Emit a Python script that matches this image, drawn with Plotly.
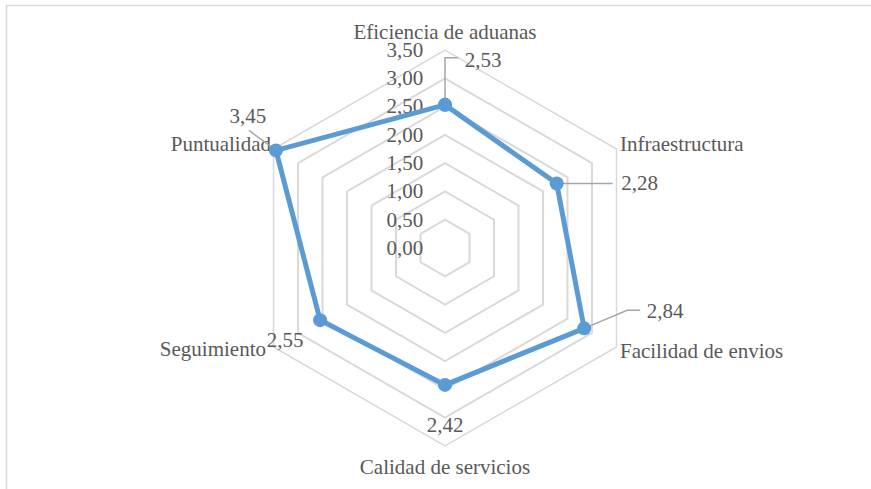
import math
import plotly.graph_objects as go

# Survey scores per logistics dimension
categories = ["Eficiencia de aduanas", "Infraestructura", "Facilidad de envios",
              "Calidad de servicios", "Seguimiento", "Puntualidad"]
scores = [2.53, 2.28, 2.84, 2.42, 2.55, 3.45]
radial_ticks = [0.0, 0.5, 1.0, 1.5, 2.0, 2.5, 3.0, 3.5]

# Page and plot geometry (pixels)
W, H = 871, 489
CX, CY = 445, 248          # centre of the radar
RPX = 198                  # radius of the outer ring
RMAX = radial_ticks[-1]
PX_PER_UNIT = RPX / RMAX
RPX_OVER = min(CY, H - CY) - 1      # radius of the overlay used for series and labels
ROVER = RPX_OVER / PX_PER_UNIT      # same scale, wider range

TEXT = "#595959"
GRID = "#d9d9d9"
BLUE = "#5b9bd5"
LEADER = "#a6a6a6"
FONT = "Liberation Serif, Times New Roman, serif"
FS = 21

# Data-label placement: offset of the label centre from its point, and
# optional leader-line vertices (pixels, y downwards) relative to the point.
label_offsets = [(38, -43), (83, 1), (81, -16), (0, 42), (-35, 22), (-28, -33)]
leader_paths = [
    [(0, 0), (0, -47), (13, -47)],
    [(0, 0), (56, 0)],
    [(0, 0), (43, -18), (56, -18)],
    None,
    None,
    [(0, 0), (-27, -20)],
]
# Category-name placement: anchor offset from the outer vertex and text alignment
category_offsets = [(0, -16), (3.5, -3), (3.5, 6), (0, 23), (-7.5, 4), (-2.5, -3)]
category_textpos = ["middle center", "middle right", "middle right",
                    "middle center", "middle left", "middle left"]

n = len(categories)
thetas = [i * 360.0 / n for i in range(n)]


def point_px(r, theta):
    a = math.radians(theta)
    return r * PX_PER_UNIT * math.sin(a), -r * PX_PER_UNIT * math.cos(a)


def px_to_polar(x, y):
    r = math.hypot(x, y) / PX_PER_UNIT
    th = math.degrees(math.atan2(x, -y)) % 360
    return r, th


fig = go.Figure()

# hexagonal frame (category axis) -- invisible carrier trace
fig.add_trace(go.Scatterpolar(r=[0] * n, theta=categories, mode="lines",
                              line=dict(width=0), opacity=0, subplot="polar",
                              hoverinfo="skip", showlegend=False))

# category names
cat_r, cat_t = [], []
for th, (dx, dy) in zip(thetas, category_offsets):
    px, py = point_px(RMAX, th)
    r, t = px_to_polar(px + dx, py + dy)
    cat_r.append(r)
    cat_t.append(t)
fig.add_trace(go.Scatterpolar(r=cat_r, theta=cat_t, mode="text", text=categories,
                              textposition=category_textpos,
                              textfont=dict(family=FONT, size=FS, color=TEXT),
                              subplot="polar2", cliponaxis=False,
                              hoverinfo="skip", showlegend=False))

# leader lines
for val, th, path in zip(scores, thetas, leader_paths):
    if not path:
        continue
    px, py = point_px(val, th)
    rr, tt = zip(*[px_to_polar(px + dx, py + dy) for dx, dy in path])
    fig.add_trace(go.Scatterpolar(r=list(rr), theta=list(tt), mode="lines",
                                  line=dict(color=LEADER, width=1.5),
                                  subplot="polar2",
                                  hoverinfo="skip", showlegend=False))

# main series
fig.add_trace(go.Scatterpolar(
    r=scores + [scores[0]], theta=thetas + [thetas[0]],
    mode="lines+markers",
    line=dict(color=BLUE, width=5),
    marker=dict(color=BLUE, size=14),
    subplot="polar2", showlegend=False,
))

# data labels
lab_r, lab_t, lab_s = [], [], []
for val, th, (dx, dy) in zip(scores, thetas, label_offsets):
    px, py = point_px(val, th)
    r, t = px_to_polar(px + dx, py + dy)
    lab_r.append(r)
    lab_t.append(t)
    lab_s.append(f"{val:.2f}".replace(".", ","))
fig.add_trace(go.Scatterpolar(r=lab_r, theta=lab_t, mode="text", text=lab_s,
                              textposition="middle center",
                              textfont=dict(family=FONT, size=FS, color=TEXT),
                              subplot="polar2", cliponaxis=False,
                              hoverinfo="skip", showlegend=False))

dom_x = [(CX - RPX) / W, (CX + RPX) / W]
dom_y = [(H - CY - RPX) / H, (H - CY + RPX) / H]
dom2_x = [(CX - RPX_OVER) / W, (CX + RPX_OVER) / W]
dom2_y = [(H - CY - RPX_OVER) / H, (H - CY + RPX_OVER) / H]

fig.update_layout(
    width=W, height=H,
    margin=dict(l=0, r=0, t=0, b=0),
    paper_bgcolor="white",
    separators=",.",
    font=dict(family=FONT, size=FS, color=TEXT),
    polar=dict(
        domain=dict(x=dom_x, y=dom_y),
        bgcolor="white",
        gridshape="linear",
        radialaxis=dict(
            range=[0, RMAX], tickvals=radial_ticks, tickformat=".2f",
            angle=90, tickangle=90, side="counterclockwise",
            showline=False, gridcolor=GRID, gridwidth=1.5,
            ticks="outside", ticklen=14, tickcolor="rgba(0,0,0,0)",
            tickfont=dict(family=FONT, size=FS, color=TEXT),
        ),
        angularaxis=dict(
            type="category", categoryarray=categories,
            rotation=90, direction="clockwise",
            showgrid=False, showline=True, linecolor=GRID, linewidth=1.5,
            ticks="", showticklabels=False,
        ),
    ),
    polar2=dict(
        domain=dict(x=dom2_x, y=dom2_y),
        bgcolor="rgba(0,0,0,0)",
        radialaxis=dict(range=[0, ROVER], visible=False),
        angularaxis=dict(rotation=90, direction="clockwise", visible=False),
    ),
    shapes=[dict(type="rect", xref="paper", yref="paper",
                 x0=6.5 / W, x1=1.05, y0=-0.05, y1=1 - 5.5 / H,
                 line=dict(color=GRID, width=1.5), fillcolor="rgba(0,0,0,0)",
                 layer="below")],
)

fig.write_html("out.html")
